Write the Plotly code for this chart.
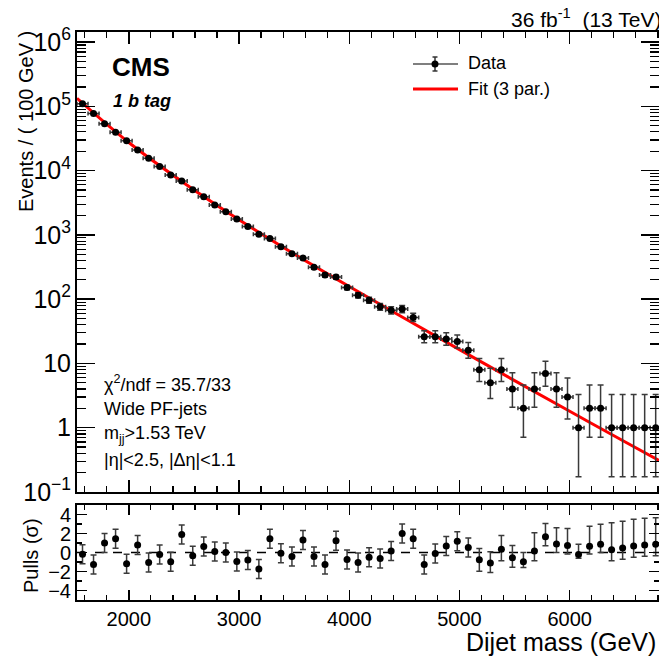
import math
import plotly.graph_objects as go

# ---------------- data ----------------
mass = [1580, 1680, 1780, 1880, 1980, 2080, 2180, 2280, 2380, 2480,
        2580, 2680, 2780, 2880, 2980, 3080, 3180, 3280, 3380, 3480,
        3580, 3680, 3780, 3880, 3980, 4080, 4180, 4280, 4380, 4480,
        4580, 4680, 4780, 4880, 4980, 5080, 5180, 5280, 5380, 5480,
        5580, 5680, 5780, 5880, 5980, 6080, 6180, 6280, 6380, 6480,
        6580, 6680, 6780]
events = [110000, 77000, 53700, 39600, 29100, 21000, 15600, 11550, 8570, 6900,
          5050, 3930, 2910, 2285, 1758, 1349, 1025, 875, 656, 510,
          437, 313, 237, 221, 152, 115, 96, 76, 67, 70,
          52, 26, 26, 24, 22, 16, 8, 5, 8, 4,
          2, 4, 7, 4, 3, 1, 2, 2, 1, 1,
          1, 1, 1]
pulls = [-0.18, -1.25, 1.0, 1.46, -1.18, 0.8, -1.04, -0.21, -0.97, 1.9,
         -0.35, 0.62, 0.1, 0.0, -0.94, -0.8, -1.74, 1.46, -0.07, -0.42,
         1.31, -0.42, -1.25, 1.25, -0.73, -1.04, -0.5, -0.63, 0.17, 2.0,
         1.46, -1.25, -0.1, 0.69, 1.18, 0.52, -0.77, -1.11, 0.34, -0.56,
         -0.97, 0.17, 1.67, 0.9, 0.73, -0.21, 0.66, 0.87, 0.28, 0.48,
         0.69, 0.8, 0.87]
pull_err_up = [1.0] * 36 + [1.2, 1.2, 1.46, 1.3, 0.97, 1.9, 1.39, 1.7, 1.8, 1.08,
                            2.1, 2.1, 2.85, 2.8, 2.8, 2.8, 2.8]
pull_err_lo = [1.0] * 36 + [1.2, 1.0, 1.2, 1.0, 0.6, 1.04, 0.97, 0.9, 0.9, 0.4,
                            0.83, 0.87, 1.15, 1.2, 1.2, 1.2, 1.2]
bin_half_width = 50

fit_mass = [1530, 2000, 2500, 3000, 3500, 4000, 4500, 5000, 5500, 6000, 6500, 6810]
fit_events = [133000, 27300, 6430, 1722, 505, 157, 50.5, 16.4, 5.4, 1.8, 0.605, 0.31]

x_range = [1530, 6810]
y_log_range = [-1, 6.156]
pull_range = [-5, 5]


# Garwood (68%) Poisson intervals for the counts
def pois_cdf(k, lam):
    if lam <= 0:
        return 1.0
    term = math.exp(-lam)
    s = term
    for i in range(1, k + 1):
        term *= lam / i
        s += term
    return s


def garwood(n):
    if n >= 100:
        return math.sqrt(n), math.sqrt(n)
    a = 0.158655
    lo_b, hi_b = float(n), n + 10 * math.sqrt(n + 1) + 10
    for _ in range(80):
        mid = 0.5 * (lo_b + hi_b)
        if pois_cdf(n, mid) > a:
            lo_b = mid
        else:
            hi_b = mid
    U = 0.5 * (lo_b + hi_b)
    if n == 0:
        return 0.0, U
    lo_b, hi_b = 0.0, float(n)
    for _ in range(80):
        mid = 0.5 * (lo_b + hi_b)
        if 1 - pois_cdf(n - 1, mid) < a:
            lo_b = mid
        else:
            hi_b = mid
    Lw = 0.5 * (lo_b + hi_b)
    return n - Lw, U - n


err_lo, err_up = zip(*[garwood(n) for n in events])

# ---------------- geometry helpers ----------------
W, H = 659, 657
ML, MR, MT, MB = 77, 0, 32, 57
PW, PH = W - ML - MR, H - MT - MB


def px(x):
    return (x - ML) / PW


def py(y):
    return (H - MB - y) / PH


FONT = "Liberation Sans, Arial, Helvetica, sans-serif"
EBAR = "#3a3a3a"

fig = go.Figure()

# Fit line
fig.add_trace(go.Scatter(
    x=fit_mass, y=fit_events, mode="lines", line=dict(color="#ff0000", width=3, shape="spline"),
    xaxis="x", yaxis="y", hoverinfo="skip", cliponaxis=True))

# Data points
fig.add_trace(go.Scatter(
    x=mass, y=events, mode="markers",
    marker=dict(color="black", size=7),
    error_y=dict(type="data", symmetric=False, array=list(err_up), arrayminus=list(err_lo),
                 color=EBAR, thickness=1.5, width=3),
    error_x=dict(type="constant", value=bin_half_width, color=EBAR, thickness=1.5, width=2),
    xaxis="x", yaxis="y", cliponaxis=True))

# Pulls
fig.add_trace(go.Scatter(
    x=mass, y=pulls, mode="markers",
    marker=dict(color="black", size=7),
    error_y=dict(type="data", symmetric=False, array=pull_err_up, arrayminus=pull_err_lo,
                 color=EBAR, thickness=1.5, width=3),
    xaxis="x2", yaxis="y2", cliponaxis=True))

main_dom_bottom = py(492)
pull_dom_top = py(505)

axis_common = dict(showline=True, linecolor="black", linewidth=2, mirror="ticks",
                   ticks="inside", tickcolor="black", showgrid=False, zeroline=False,
                   automargin=False,
                   tickfont=dict(family=FONT, size=20, color="black"))

fig.update_layout(
    width=W, height=H,
    margin=dict(l=ML, r=MR, t=MT, b=MB, pad=0, autoexpand=False),
    paper_bgcolor="white", plot_bgcolor="white",
    showlegend=False,
    font=dict(family=FONT, color="black"),
    xaxis=dict(domain=[0, 1], anchor="y", range=x_range, showticklabels=False,
               tickmode="linear", tick0=0, dtick=1000, ticklen=12, tickwidth=1.5,
               minor=dict(ticks="inside", tick0=0, dtick=200, ticklen=6, tickwidth=1.2,
                          tickcolor="black", showgrid=False),
               **axis_common),
    yaxis=dict(domain=[main_dom_bottom, 1], anchor="x", type="log", range=y_log_range,
               dtick=1, exponentformat="power", ticklen=18, tickwidth=1.5,
               minor=dict(ticks="inside", dtick="D1", ticklen=9, tickwidth=1.2,
                          tickcolor="black", showgrid=False),
               **axis_common),
    xaxis2=dict(domain=[0, 1], anchor="y2", range=x_range,
                tickmode="linear", tick0=0, dtick=1000, ticklen=10, tickwidth=1.5,
                minor=dict(ticks="inside", tick0=0, dtick=200, ticklen=5, tickwidth=1.2,
                           tickcolor="black", showgrid=False),
                **axis_common),
    yaxis2=dict(domain=[0, pull_dom_top], anchor="x2", range=pull_range,
                tickmode="linear", tick0=0, dtick=2, ticklen=10, tickwidth=1.5,
                minor=dict(ticks="inside", tick0=0, dtick=1, ticklen=5, tickwidth=1.2,
                           tickcolor="black", showgrid=False),
                **axis_common),
)

# zero line in pulls
fig.add_shape(type="line", xref="x2 domain", yref="y2", x0=0, x1=1, y0=0, y1=0,
              line=dict(color="black", width=1.5, dash="dash"), layer="below")

# Legend (drawn by hand)
shp = dict(xref="paper", yref="paper")
fig.add_shape(type="line", x0=px(413), x1=px(458), y0=py(64), y1=py(64),
              line=dict(color="#555555", width=1.5), **shp)
fig.add_shape(type="line", x0=px(435), x1=px(435), y0=py(57), y1=py(71),
              line=dict(color="#333333", width=1.5), **shp)
fig.add_shape(type="line", x0=px(432.5), x1=px(437.5), y0=py(57), y1=py(57),
              line=dict(color="#333333", width=1.5), **shp)
fig.add_shape(type="line", x0=px(432.5), x1=px(437.5), y0=py(71), y1=py(71),
              line=dict(color="#333333", width=1.5), **shp)
fig.add_shape(type="circle", x0=px(431.5), x1=px(438.5), y0=py(67.5), y1=py(60.5),
              fillcolor="black", line=dict(color="black", width=0), **shp)
fig.add_shape(type="line", x0=px(413), x1=px(458), y0=py(89), y1=py(89),
              line=dict(color="#ff0000", width=3), **shp)


def ann(text, x, y, size, xanchor="left", yanchor="middle", angle=0):
    fig.add_annotation(text=text, x=px(x), y=py(y), xref="paper", yref="paper",
                       showarrow=False, xanchor=xanchor, yanchor=yanchor, textangle=angle,
                       font=dict(family=FONT, size=size, color="black"))


ann("Data", 466, 63, 18)
ann("Fit (3 par.)", 466, 89, 18)
ann("<b>CMS</b>", 110, 67, 26)
ann("<b><i>1 b tag</i></b>", 111, 101, 18)
ann("36 fb<sup>-1</sup>\u00a0\u00a0(13 TeV)", 509, 18, 21)
ann("χ<sup>2</sup>/ndf = 35.7/33", 102, 383, 18)
ann("Wide PF-jets", 102, 409, 18)
ann("m<sub>jj</sub>&gt;1.53 TeV", 102, 434, 18)
ann("|η|&lt;2.5, |Δη|&lt;1.1", 102, 460, 18)
ann("Events / ( 100 GeV )", 26, 122, 20, xanchor="center", angle=-90)
ann("Pulls (σ)", 31, 556, 20, xanchor="center", angle=-90)
ann("Dijet mass (GeV)", 464, 642, 25)

fig.write_html(
    "out.html",
    config={"displayModeBar": False, "staticPlot": True},
    post_script="document.body.style.margin='0';document.body.style.padding='0';"
                "document.documentElement.style.overflow='hidden';",
)
